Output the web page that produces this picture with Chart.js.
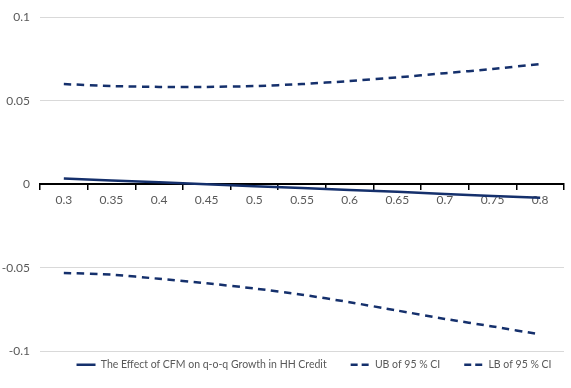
<!DOCTYPE html>
<html>
<head>
<meta charset="utf-8">
<script src="https://cdn.jsdelivr.net/npm/chart.js@4/dist/chart.umd.min.js"></script>
<style>
  html, body { margin: 0; padding: 0; background: #fff; }
  #wrap { width: 571px; height: 388px; }
</style>
</head>
<body>
<div id="wrap"><canvas id="c" width="571" height="388"></canvas></div>
<script>
// Threshold values on the horizontal axis
const categories = ['0.3', '0.35', '0.4', '0.45', '0.5', '0.55', '0.6', '0.65', '0.7', '0.75', '0.8'];

// Estimated effect and its 95% confidence bounds
const effect = [0.0035, 0.0023, 0.0012, 0.0, -0.0011, -0.0022, -0.0034, -0.0045, -0.0057, -0.0069, -0.0080];
const upperBound = [0.0600, 0.0588, 0.0583, 0.0583, 0.0588, 0.0600, 0.0618, 0.0640, 0.0665, 0.0690, 0.0720];
const lowerBound = [-0.0530, -0.0540, -0.0565, -0.0592, -0.0623, -0.0660, -0.0705, -0.0755, -0.0805, -0.0850, -0.0898];

const yTickLabels = ['-0.1', '-0.05', '0', '0.05', '0.1'];

const seriesNames = [
  'The Effect of CFM on q-o-q Growth in HH Credit',
  'UB of 95 % CI',
  'LB of 95 % CI'
];

const NAVY = '#15306c';
const TEXT = '#595959';
const FONT = 'Lato, "Open Sans", sans-serif';
const DASH = [7.5, 5.5];

// The legend keeps wide gaps between entries but sits close under the plot,
// centred a little right of the canvas middle.
const legendPlace = {
  id: 'legendPlace',
  afterLayout(chart) {
    const lg = chart.legend;
    if (!lg) return;
    const up = 16, right = 32;
    lg.top -= up;
    lg.bottom -= up;
    lg.left += right;
    lg.right += right;
  }
};

new Chart(document.getElementById('c'), {
  type: 'line',
  data: {
    labels: categories,
    datasets: [
      { label: seriesNames[0], data: effect, borderColor: NAVY, backgroundColor: NAVY, borderWidth: 2.5, pointRadius: 0, tension: 0 },
      { label: seriesNames[1], data: upperBound, borderColor: NAVY, backgroundColor: NAVY, borderWidth: 2.5, borderDash: DASH, pointRadius: 0, tension: 0.2 },
      { label: seriesNames[2], data: lowerBound, borderColor: NAVY, backgroundColor: NAVY, borderWidth: 2.5, borderDash: DASH, pointRadius: 0, tension: 0.2 }
    ]
  },
  plugins: [legendPlace],
  options: {
    responsive: false,
    animation: false,
    devicePixelRatio: 1,
    layout: { padding: { top: 1, right: 7, bottom: -8, left: 0 } },
    plugins: {
      tooltip: { enabled: false },
      legend: {
        position: 'bottom',
        labels: {
          color: TEXT,
          font: { family: FONT, size: 10.5 },
          usePointStyle: true,
          pointStyle: 'line',
          pointStyleWidth: 19,
          boxWidth: 19,
          boxHeight: 2,
          padding: 24,
          // keep each series' dash pattern in its legend sample
          generateLabels: (chart) => {
            const items = Chart.defaults.plugins.legend.labels.generateLabels(chart);
            items.forEach((item) => {
              const ds = chart.data.datasets[item.datasetIndex];
              item.lineDash = ds.borderDash ? [7, 4] : [];
              item.lineWidth = 2.5;
              item.strokeStyle = NAVY;
              item.fillStyle = NAVY;
            });
            return items;
          }
        }
      }
    },
    scales: {
      x: {
        position: { y: 0 },
        offset: true,
        grid: {
          offset: true,
          drawOnChartArea: false,
          drawTicks: true,
          tickLength: 5,
          tickColor: '#000',
          lineWidth: 1.5
        },
        border: { display: true, color: '#000', width: 2 },
        ticks: {
          color: TEXT,
          font: { family: FONT, size: 12 },
          padding: 4,
          maxRotation: 0,
          autoSkip: false
        }
      },
      y: {
        min: -0.1,
        max: 0.1,
        grid: { color: '#d9d9d9', lineWidth: 1, drawTicks: false },
        border: { display: false },
        afterFit: (scale) => { scale.width = 40; },
        ticks: {
          stepSize: 0.05,
          color: TEXT,
          font: { family: FONT, size: 12 },
          padding: 10,
          callback: (value, index) => yTickLabels[index]
        }
      }
    }
  }
});
</script>
</body>
</html>
